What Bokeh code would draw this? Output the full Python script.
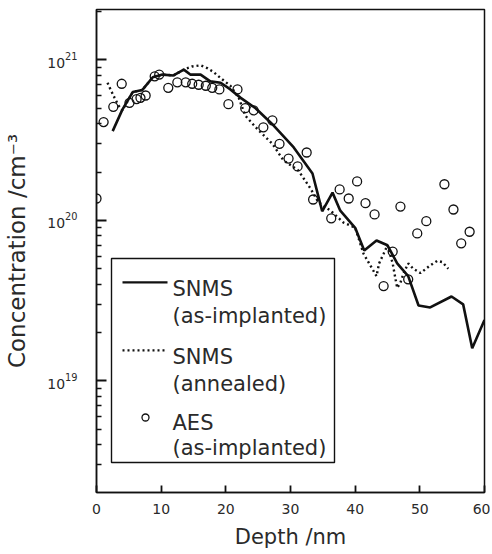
from bokeh.plotting import figure
from bokeh.models import FixedTicker, Label, BoxAnnotation, Range1d
from bokeh.embed import file_html
from bokeh.resources import INLINE

# ---------------- data ----------------
depth_imp = [2.5, 4.0, 5.6, 7.1, 8.7, 10.2, 11.9, 13.5, 14.5, 16.1, 17.6, 19.2,
             20.7, 22.3, 24.6, 27.4, 30.5, 33.4, 34.2, 34.9, 36.5, 37.7, 40.0,
             41.4, 43.3, 45.0, 46.5, 48.2, 49.8, 51.6, 54.9, 56.7, 58.1, 60.0]
conc_imp = [3.6e20, 4.9e20, 6.3e20, 6.5e20, 7.8e20, 8.1e20, 8.0e20, 8.7e20, 8.1e20,
            8.1e20, 7.35e20, 7.2e20, 6.55e20, 5.8e20, 5.0e20, 3.9e20, 2.85e20,
            1.96e20, 1.47e20, 1.14e20, 1.49e20, 1.15e20, 9.0e19, 6.5e19, 7.5e19,
            7.0e19, 5.4e19, 4.5e19, 2.95e19, 2.87e19, 3.36e19, 3.0e19, 1.6e19,
            2.4e19]

depth_ann = [1.7, 2.2, 2.8, 3.4, 4.0, 5.6, 7.1, 8.7, 10.2, 11.9, 13.5, 14.8, 16.1,
             17.2, 18.1, 19.2, 20.7, 22.0, 23.0, 24.9, 27.2, 28.9, 31.2, 33.1,
             34.3, 36.2, 38.2, 40.0, 41.3, 42.4, 43.3, 43.7, 44.4, 45.0, 45.8,
             46.2, 46.5, 47.0, 47.5, 48.2, 49.0, 50.1, 51.6, 52.7, 53.5, 54.4]
conc_ann = [7.2e20, 6.5e20, 5.8e20, 5.2e20, 4.85e20, 6.3e20, 6.5e20, 7.8e20, 8.1e20,
            8.0e20, 8.7e20, 9.1e20, 9.25e20, 8.85e20, 8.4e20, 7.7e20, 6.9e20,
            5.8e20, 4.5e20, 3.7e20, 3.0e20, 2.37e20, 2.05e20, 1.58e20, 1.3e20,
            1.15e20, 9.7e19, 9.0e19, 6.2e19, 5.2e19, 4.5e19, 5.4e19, 6.2e19,
            7.0e19, 5.4e19, 4.4e19, 3.8e19, 4.1e19, 4.7e19, 5.4e19, 5.0e19,
            4.7e19, 5.25e19, 5.6e19, 5.5e19, 5.0e19]

depth_aes = [0.0, 1.1, 2.6, 3.9, 5.1, 6.2, 6.8, 7.6, 9.0, 9.7, 11.1, 12.5, 13.8,
             14.8, 15.8, 16.9, 17.9, 19.0, 20.4, 21.8, 23.0, 24.3, 25.8, 27.2,
             28.3, 29.7, 31.1, 32.5, 33.5, 36.3, 37.6, 39.0, 40.3, 41.6, 43.0,
             44.4, 45.8, 47.0, 48.2, 49.6, 51.0, 53.8, 55.2, 56.4, 57.7]
conc_aes = [1.37e20, 4.1e20, 5.1e20, 7.1e20, 5.4e20, 5.7e20, 5.8e20, 6.0e20, 7.9e20,
            8.1e20, 6.7e20, 7.25e20, 7.25e20, 7.1e20, 7.0e20, 6.9e20, 6.7e20,
            6.55e20, 5.3e20, 6.55e20, 5.0e20, 4.85e20, 3.8e20, 4.2e20, 3.0e20,
            2.43e20, 2.17e20, 2.65e20, 1.35e20, 1.03e20, 1.56e20, 1.37e20,
            1.75e20, 1.28e20, 1.09e20, 3.9e19, 6.4e19, 1.22e20, 4.3e19, 8.3e19,
            9.9e19, 1.68e20, 1.17e20, 7.2e19, 8.5e19]

x_ticks = [0, 10, 20, 30, 40, 50, 60]
y_major = [1e19, 1e20, 1e21]
y_labels = {"1e+19": "10\u00b9\u2079", "1e+20": "10\u00b2\u2070", "1e+21": "10\u00b2\u00b9"}

legend_labels = [("SNMS", "(as-implanted)"), ("SNMS", "(annealed)"),
                 ("AES", "(as-implanted)")]

# ---------------- figure ----------------
FONT = "DejaVu Sans"
INK = "#111111"
TXT = "#2a2a2a"
X_MIN, X_MAX = 0, 60
Y_MIN, Y_MAX = 2.02e18, 2.06e21

p = figure(width=490, height=552, y_axis_type="log",
           x_range=Range1d(X_MIN, X_MAX), y_range=Range1d(Y_MIN, Y_MAX),
           output_backend="svg", toolbar_location=None,
           min_border_left=96, min_border_right=6, min_border_top=9,
           min_border_bottom=60)
p.grid.visible = False
p.outline_line_color = INK
p.outline_line_width = 1.5

xa = p.xaxis[0]
ya = p.yaxis[0]
minor = [m * 10.0 ** e for e in (18, 19, 20, 21) for m in range(2, 10)
         if Y_MIN <= m * 10.0 ** e <= Y_MAX]
xa.ticker = FixedTicker(ticks=x_ticks, minor_ticks=[])
ya.ticker = FixedTicker(ticks=y_major, minor_ticks=minor)
ya.major_label_overrides = y_labels

for a in (xa, ya):
    a.major_tick_out = 0
    a.minor_tick_out = 0
    a.axis_line_color = INK
    a.axis_line_width = 1.5
    a.major_tick_line_color = INK
    a.major_tick_line_width = 1.8
    a.minor_tick_line_color = INK
    a.minor_tick_line_width = 1.4
    a.major_label_text_font = FONT
    a.major_label_text_font_size = "14px"
    a.major_label_text_color = TXT
    a.axis_label_text_font = FONT
    a.axis_label_text_font_style = "normal"
    a.axis_label_text_color = TXT

xa.major_tick_in = 7
xa.minor_tick_in = 0
xa.major_label_standoff = 11
xa.axis_label = "Depth /nm"
xa.axis_label_text_font_size = "21px"
xa.axis_label_standoff = 8

ya.major_tick_in = 10
ya.minor_tick_in = 5
ya.major_label_standoff = 19
ya.axis_label = "Concentration /cm\u207b\u00b3"
ya.axis_label_text_font_size = "23px"
ya.axis_label_standoff = 14

# data
p.line(depth_imp, conc_imp, line_color=INK, line_width=2.6)
p.line(depth_ann, conc_ann, line_color=INK, line_width=2.4, line_dash="2 3")
p.scatter(depth_aes, conc_aes, marker="circle", size=9, fill_color=None,
          line_color=INK, line_width=1.3)

# ---------------- legend (drawn by hand; layout given in page pixels) ----
X0, PX_PER_NM = 96.0, 388.0 / 60.0
Y20, PX_PER_DEC = 220.0, 160.5


def lx(px):
    return (px - X0) / PX_PER_NM


def ly(py):
    return 10 ** (20 + (Y20 - py) / PX_PER_DEC)


p.add_layout(BoxAnnotation(left=lx(111), right=lx(334), top=ly(258), bottom=ly(462),
                           fill_color="white", fill_alpha=1.0,
                           line_color=INK, line_alpha=1.0, line_width=1.4,
                           level="underlay"))

sample_y = [282, 350, 417]
baselines = [(289, 316), (357, 384), (423, 448)]
p.line([lx(122), lx(167)], [ly(sample_y[0])] * 2, line_color=INK, line_width=2.2)
p.line([lx(122), lx(167)], [ly(sample_y[1])] * 2, line_color=INK, line_width=2.2,
       line_dash="2 3")
p.scatter([lx(145)], [ly(sample_y[2])], marker="circle", size=7, fill_color=None,
          line_color=INK, line_width=1.3)

for (l1, l2), (b1, b2) in zip(legend_labels, baselines):
    for txt, b in ((l1, b1), (l2, b2)):
        p.add_layout(Label(x=lx(172), y=ly(b), text=txt, text_font=FONT,
                           text_font_size="21px", text_color=TXT,
                           text_baseline="alphabetic"))

open("out.html", "w").write(file_html(p, INLINE))
